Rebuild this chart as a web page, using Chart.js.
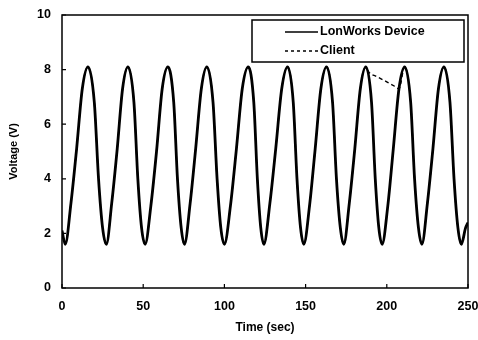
<!DOCTYPE html>
<html>
<head>
<meta charset="utf-8">
<script src="https://cdn.jsdelivr.net/npm/chart.js@4/dist/chart.umd.min.js"></script>
<style>
  html, body { margin: 0; padding: 0; background: #fff; }
  #wrap { width: 478px; height: 340px; }
</style>
</head>
<body>
<div id="wrap"><canvas id="chartVolt" width="478" height="340"></canvas></div>
<script>
// data
const seriesNames = ["LonWorks Device", "Client"];
const xTicks = [0, 50, 100, 150, 200, 250];
const yTicks = [0, 2, 4, 6, 8, 10];

const timeSec = [
  0, 2.0, 5.5, 9.0, 12.5, 16.0, 19.9, 22.5, 25.0, 27.3,
  30.6, 34.0, 37.3, 40.6, 44.3, 46.7, 49.0, 51.2,
  54.7, 58.2, 61.7, 65.2, 68.8, 71.1, 73.4, 75.4,
  78.9, 82.3, 85.8, 89.2, 93.0, 95.5, 97.8, 100.0,
  103.7, 107.4, 111.0, 114.7, 118.1, 120.3, 122.4, 124.3,
  128.0, 131.6, 135.3, 138.9, 142.4, 144.7, 146.9, 148.9,
  152.4, 155.9, 159.4, 162.9, 166.6, 169.0, 171.4, 173.5,
  176.9, 180.3, 183.7, 187.1, 190.6, 192.9, 195.1, 197.1,
  200.6, 204.0, 207.5, 211.0, 214.7, 217.1, 219.5, 221.6,
  225.0, 228.4, 231.8, 235.2, 238.9, 241.4, 243.8, 245.9,
  248.5, 250
];
const deviceVolts = [
  2.1, 1.6, 3.1, 5.1, 7.3, 8.1, 6.8, 4.0, 2.2, 1.6,
  3.1, 5.1, 7.3, 8.1, 6.8, 4.0, 2.2, 1.6,
  3.0, 5.0, 7.3, 8.1, 6.8, 4.0, 2.2, 1.6,
  3.1, 5.1, 7.3, 8.1, 6.8, 4.0, 2.2, 1.6,
  3.0, 5.1, 7.3, 8.1, 6.8, 4.0, 2.2, 1.6,
  3.1, 5.1, 7.3, 8.1, 6.8, 4.0, 2.2, 1.6,
  3.0, 5.1, 7.3, 8.1, 6.8, 4.0, 2.2, 1.6,
  3.1, 5.1, 7.3, 8.1, 6.8, 4.0, 2.2, 1.6,
  3.0, 5.1, 7.3, 8.1, 6.8, 4.0, 2.2, 1.6,
  3.1, 5.1, 7.3, 8.1, 6.8, 4.0, 2.2, 1.6,
  2.2, 2.4
];

// client follows the device, with a gap after ~188 s bridged by a straight line
const clientTime = [
  0, 2.0, 5.5, 9.0, 12.5, 16.0, 19.9, 22.5, 25.0, 27.3,
  30.6, 34.0, 37.3, 40.6, 44.3, 46.7, 49.0, 51.2,
  54.7, 58.2, 61.7, 65.2, 68.8, 71.1, 73.4, 75.4,
  78.9, 82.3, 85.8, 89.2, 93.0, 95.5, 97.8, 100.0,
  103.7, 107.4, 111.0, 114.7, 118.1, 120.3, 122.4, 124.3,
  128.0, 131.6, 135.3, 138.9, 142.4, 144.7, 146.9, 148.9,
  152.4, 155.9, 159.4, 162.9, 166.6, 169.0, 171.4, 173.5,
  176.9, 180.3, 183.7, 187.1, 189.0, 193.6, 198.5, 204.8,
  207.5, 211.0, 214.7, 217.1, 219.5, 221.6,
  225.0, 228.4, 231.8, 235.2, 238.9, 241.4, 243.8, 245.9,
  248.5, 250
];
const clientVolts = [
  2.1, 1.6, 3.1, 5.1, 7.3, 8.1, 6.8, 4.0, 2.2, 1.6,
  3.1, 5.1, 7.3, 8.1, 6.8, 4.0, 2.2, 1.6,
  3.0, 5.0, 7.3, 8.1, 6.8, 4.0, 2.2, 1.6,
  3.1, 5.1, 7.3, 8.1, 6.8, 4.0, 2.2, 1.6,
  3.0, 5.1, 7.3, 8.1, 6.8, 4.0, 2.2, 1.6,
  3.1, 5.1, 7.3, 8.1, 6.8, 4.0, 2.2, 1.6,
  3.0, 5.1, 7.3, 8.1, 6.8, 4.0, 2.2, 1.6,
  3.1, 5.1, 7.3, 8.1, 7.9, 7.75, 7.6, 7.39,
  7.3, 8.1, 6.8, 4.0, 2.2, 1.6,
  3.1, 5.1, 7.3, 8.1, 6.8, 4.0, 2.2, 1.6,
  2.2, 2.4
];

const FONT = "'Liberation Sans', Arial, sans-serif";

function toPoints(xs, ys) {
  return xs.map((x, i) => ({ x: x, y: ys[i] }));
}

// frame, inner ticks and the boxed legend
const framePlugin = {
  id: "frame",
  afterDraw(chart) {
    const ctx = chart.ctx;
    const a = chart.chartArea;
    const sx = chart.scales.x;
    const sy = chart.scales.y;

    ctx.save();
    ctx.strokeStyle = "#000";
    ctx.lineWidth = 1.5;
    ctx.strokeRect(a.left, a.top, a.right - a.left, a.bottom - a.top);

    ctx.lineWidth = 1.2;
    ctx.beginPath();
    xTicks.forEach((v) => {
      const px = sx.getPixelForValue(v);
      ctx.moveTo(px, a.bottom);
      ctx.lineTo(px, a.bottom - 4);
    });
    yTicks.forEach((v) => {
      const py = sy.getPixelForValue(v);
      ctx.moveTo(a.left, py);
      ctx.lineTo(a.left + 4, py);
    });
    ctx.stroke();

    // legend box
    const bx = a.right - 216, by = a.top + 5, bw = 212, bh = 42;
    ctx.fillStyle = "#fff";
    ctx.fillRect(bx, by, bw, bh);
    ctx.lineWidth = 1.5;
    ctx.strokeRect(bx, by, bw, bh);

    const rows = [by + 12, by + 31];
    ctx.lineWidth = 1.5;
    ctx.beginPath();
    ctx.moveTo(bx + 33, rows[0]);
    ctx.lineTo(bx + 66, rows[0]);
    ctx.stroke();
    ctx.setLineDash([3, 3]);
    ctx.beginPath();
    ctx.moveTo(bx + 33, rows[1]);
    ctx.lineTo(bx + 66, rows[1]);
    ctx.stroke();
    ctx.setLineDash([]);

    ctx.fillStyle = "#000";
    ctx.font = "bold 12.5px " + FONT;
    ctx.textBaseline = "middle";
    ctx.textAlign = "left";
    ctx.fillText(seriesNames[0], bx + 68, rows[0]);
    ctx.fillText(seriesNames[1], bx + 68, rows[1]);
    ctx.restore();
  },
};

const chartVolt = new Chart(document.getElementById("chartVolt"), {
  type: "line",
  data: {
    datasets: [
      {
        label: seriesNames[0],
        data: toPoints(timeSec, deviceVolts),
        borderColor: "#000",
        borderWidth: 2.8,
        pointRadius: 0,
        cubicInterpolationMode: "monotone",
      },
      {
        label: seriesNames[1],
        data: toPoints(clientTime, clientVolts),
        borderColor: "#000",
        borderWidth: 1.4,
        borderDash: [4, 3],
        pointRadius: 0,
        cubicInterpolationMode: "monotone",
      },
    ],
  },
  options: {
    responsive: false,
    animation: false,
    layout: { padding: { left: 7, right: 10, top: 15, bottom: 0 } },
    plugins: {
      legend: { display: false },
      tooltip: { enabled: false },
    },
    scales: {
      x: {
        type: "linear",
        min: 0,
        max: 250,
        afterBuildTicks: (s) => { s.ticks = xTicks.map((v) => ({ value: v })); },
        afterFit: (s) => { s.height = 52; s.paddingLeft = 0; s.paddingRight = 0; },
        grid: { display: false, drawTicks: false },
        border: { display: false },
        ticks: { color: "#000", padding: 11, maxRotation: 0, font: { family: FONT, size: 12.5, weight: "bold" } },
        title: {
          display: true,
          text: "Time (sec)",
          color: "#000",
          padding: { top: 3, bottom: 5 },
          font: { family: FONT, size: 12, weight: "bold" },
        },
      },
      y: {
        min: 0,
        max: 10,
        afterBuildTicks: (s) => { s.ticks = yTicks.map((v) => ({ value: v })); },
        afterFit: (s) => { s.width = 55; s.paddingTop = 0; s.paddingBottom = 0; },
        grid: { display: false, drawTicks: false },
        border: { display: false },
        ticks: { color: "#000", padding: 11, font: { family: FONT, size: 12.5, weight: "bold" } },
        title: {
          display: true,
          text: "Voltage (V)",
          color: "#000",
          padding: { top: 0, bottom: 6 },
          font: { family: FONT, size: 11, weight: "bold" },
        },
      },
    },
  },
  plugins: [framePlugin],
});
</script>
</body>
</html>
